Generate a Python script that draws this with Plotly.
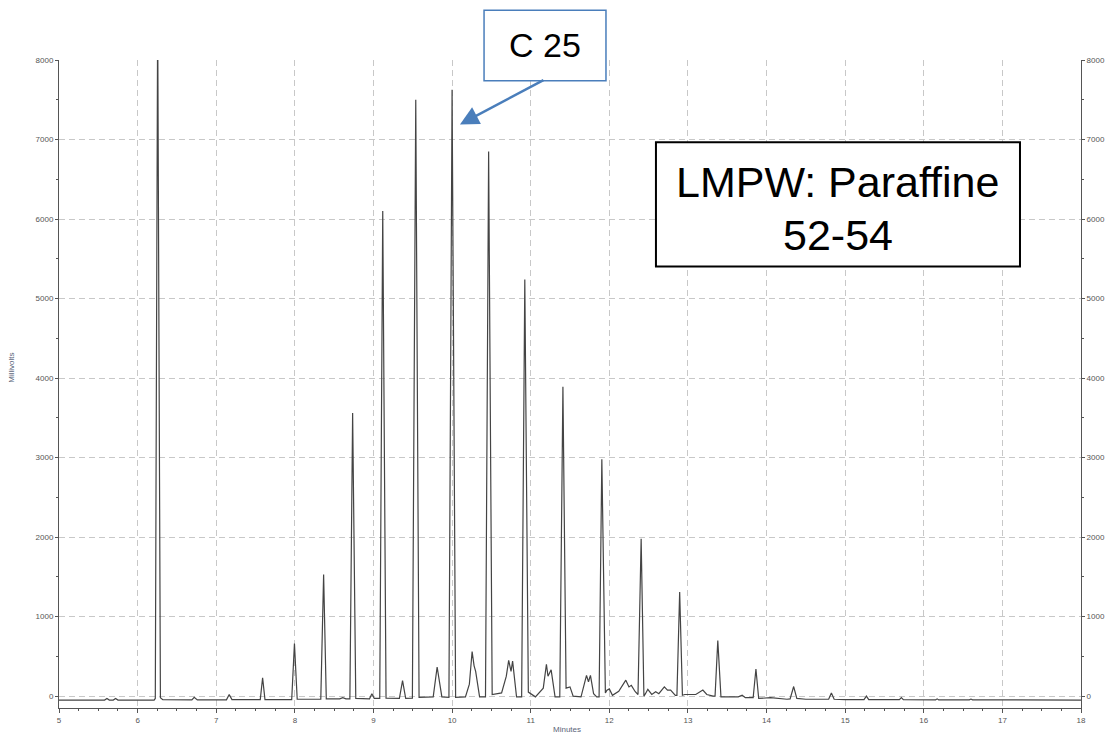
import plotly.graph_objects as go

# Chromatogram trace: retention time (minutes) and detector signal (millivolts)
time_min = [
    5.00, 5.58, 5.61, 5.64, 5.69, 5.72, 5.75, 6.21,
    6.225, 6.255, 6.29, 6.32,
    6.69, 6.72, 6.76, 7.13, 7.165, 7.20,
    7.56, 7.59, 7.62, 7.96, 7.995, 8.03,
    8.33, 8.366, 8.40, 8.57, 8.61, 8.65,
    8.70, 8.735, 8.775, 8.95, 8.98, 9.01,
    9.08, 9.118, 9.16, 9.33, 9.37, 9.41,
    9.495, 9.538, 9.58, 9.70, 9.76, 9.81, 9.87,
    9.96, 10.00, 10.045, 10.17, 10.22, 10.255, 10.28, 10.30, 10.35,
    10.425, 10.465, 10.51, 10.63, 10.69, 10.72, 10.75, 10.77, 10.82,
    10.885, 10.925, 10.97, 11.06, 11.16, 11.20, 11.22, 11.26, 11.31,
    11.37, 11.41, 11.45, 11.50, 11.54, 11.64, 11.68, 11.71, 11.735, 11.76, 11.80, 11.84,
    11.87, 11.905, 11.95, 11.97, 12.00, 12.04, 12.12, 12.21, 12.25, 12.28, 12.33,
    12.365, 12.405, 12.44, 12.46, 12.49, 12.54, 12.59, 12.63, 12.70, 12.74, 12.78, 12.84,
    12.86, 12.895, 12.93, 12.96, 13.10, 13.19, 13.24, 13.32,
    13.345, 13.38, 13.42, 13.55, 13.64, 13.69, 13.73,
    13.83, 13.865, 13.90, 14.05, 14.26,
    14.30, 14.345, 14.385, 14.50,
    14.79, 14.825, 14.86, 15.00,
    15.24, 15.27, 15.30, 15.69, 15.715, 15.74,
    16.15, 16.17, 16.19, 16.58, 16.60, 16.62, 18.00,
]
signal_mv = [
    -50, -50, -30, -50, -50, -30, -50, -50,
    -30, 8600, -20, -45,
    -48, -15, -48, -48, 20, -45,
    -45, 230, -45, -45, 660, -40,
    -40, 1530, -35, -35, -20, -35,
    -35, 3560, -30, -35, 30, -30,
    -30, 6100, -25, -30, 195, -30,
    -25, 7500, -15, -15, -10, 366, -10,
    -15, 7625, -15, -10, 150, 560, 380, 310, -10,
    -10, 6850, 20, 40, 250, 450, 310, 440, -10,
    -10, 5240, 50, -10, 100, 400, 250, 330, -10,
    -10, 3890, 100, 115, 0, -10, 140, 260, 180, 260, 30, -10,
    -10, 2980, 40, 75, 90, 10, 60, 200, 115, 135, 55,
    20, 1980, 0, 30, 85, 20, 55, 30, 115, 75, 75, 10,
    10, 1310, 10, 20, 20, 75, 20, 0,
    0, 700, -10, -10, -10, 10, -20,
    -20, 340, -30, -20, -40,
    -35, 120, -30, -40,
    -40, 40, -40, -45,
    -45, 0, -45, -45, -20, -45,
    -48, -35, -48, -48, -38, -48, -50,
]

x_ticks = list(range(5, 19))
y_ticks = list(range(0, 8001, 1000))
x_range = [5, 18]
y_range = [-150, 8000]

label_font = dict(family="Liberation Sans, Arial, sans-serif", size=8, color="#555555")
grid_color = "#c8c8c8"
axis_color = "#555555"
box_font = "Liberation Sans, Arial, sans-serif"

fig = go.Figure()
fig.add_trace(go.Scatter(
    x=time_min, y=signal_mv, mode="lines",
    line=dict(color="#444444", width=1.2),
    showlegend=False, hoverinfo="x+y",
))
# same trace on the right-hand axis (invisible) so that axis is drawn
fig.add_trace(go.Scatter(
    x=time_min, y=signal_mv, mode="lines", yaxis="y2",
    line=dict(color="rgba(0,0,0,0)", width=0),
    showlegend=False, hoverinfo="skip",
))

fig.update_layout(
    width=1118, height=737,
    margin=dict(l=59, r=37, t=60, b=24),
    paper_bgcolor="white", plot_bgcolor="white",
    xaxis=dict(
        range=x_range, tickvals=x_ticks, showgrid=True, gridcolor=grid_color,
        griddash="6px,4px", gridwidth=1, zeroline=False,
        showline=True, linecolor=axis_color, linewidth=1,
        ticks="outside", ticklen=4, tickcolor=axis_color, tickfont=label_font,
        minor=dict(dtick=0.25, ticks="outside", ticklen=2, tickcolor=axis_color, showgrid=False),
    ),
    yaxis=dict(
        range=y_range, tickvals=y_ticks, tickformat="d", showgrid=True, gridcolor=grid_color,
        griddash="6px,4px", gridwidth=1, zeroline=False,
        showline=True, linecolor=axis_color, linewidth=1,
        ticks="outside", ticklen=3, tickcolor=axis_color, tickfont=label_font,
        minor=dict(dtick=500, ticks="outside", ticklen=2, tickcolor=axis_color, showgrid=False),
    ),
    yaxis2=dict(
        range=y_range, tickvals=y_ticks, tickformat="d", overlaying="y", side="right",
        showgrid=False, zeroline=False,
        showline=True, linecolor=axis_color, linewidth=1,
        ticks="outside", ticklen=3, tickcolor=axis_color, tickfont=label_font,
        minor=dict(dtick=500, ticks="outside", ticklen=2, tickcolor=axis_color, showgrid=False),
    ),
    shapes=[
        dict(type="rect", xref="paper", yref="paper", x0=0.4159, x1=0.5352, y0=0.9678, y1=1.0766,
             line=dict(color="#4A7EBB", width=1.5), fillcolor="white", layer="above"),
        dict(type="rect", xref="paper", yref="paper", x0=0.5841, x1=0.9403, y0=0.6815, y1=0.8729,
             line=dict(color="black", width=2), fillcolor="white", layer="above"),
    ],
    annotations=[
        dict(text="C 25", xref="paper", yref="paper", x=0.4755, y=1.0235,
             xanchor="center", yanchor="middle", showarrow=False,
             font=dict(family=box_font, size=34, color="black")),
        dict(text=" ", x=10.1, y=7190, xref="x", yref="y", showarrow=True,
             ax=85, ay=-45, arrowhead=2, arrowsize=1.5, arrowwidth=2.5,
             arrowcolor="#4A7EBB", standoff=0, font=dict(size=1)),
        dict(text="LMPW: Paraffine", xref="paper", yref="paper", x=0.7622, y=0.8116,
             xanchor="center", yanchor="middle", showarrow=False,
             font=dict(family=box_font, size=43, color="black")),
        dict(text="52-54", xref="paper", yref="paper", x=0.7622, y=0.7305,
             xanchor="center", yanchor="middle", showarrow=False,
             font=dict(family=box_font, size=43, color="black")),
        dict(text="Minutes", xref="paper", yref="paper", x=0.497, y=-0.033,
             xanchor="center", yanchor="middle", showarrow=False,
             font=dict(family=box_font, size=8, color="#5a6478")),
        dict(text="Millivolts", xref="paper", yref="paper", x=-0.046, y=0.525,
             xanchor="center", yanchor="middle", showarrow=False, textangle=-90,
             font=dict(family=box_font, size=8, color="#5a6478")),
    ],
)

fig.write_html("out.html", config={"displayModeBar": False},
               post_script="document.body.style.margin='0px';")
